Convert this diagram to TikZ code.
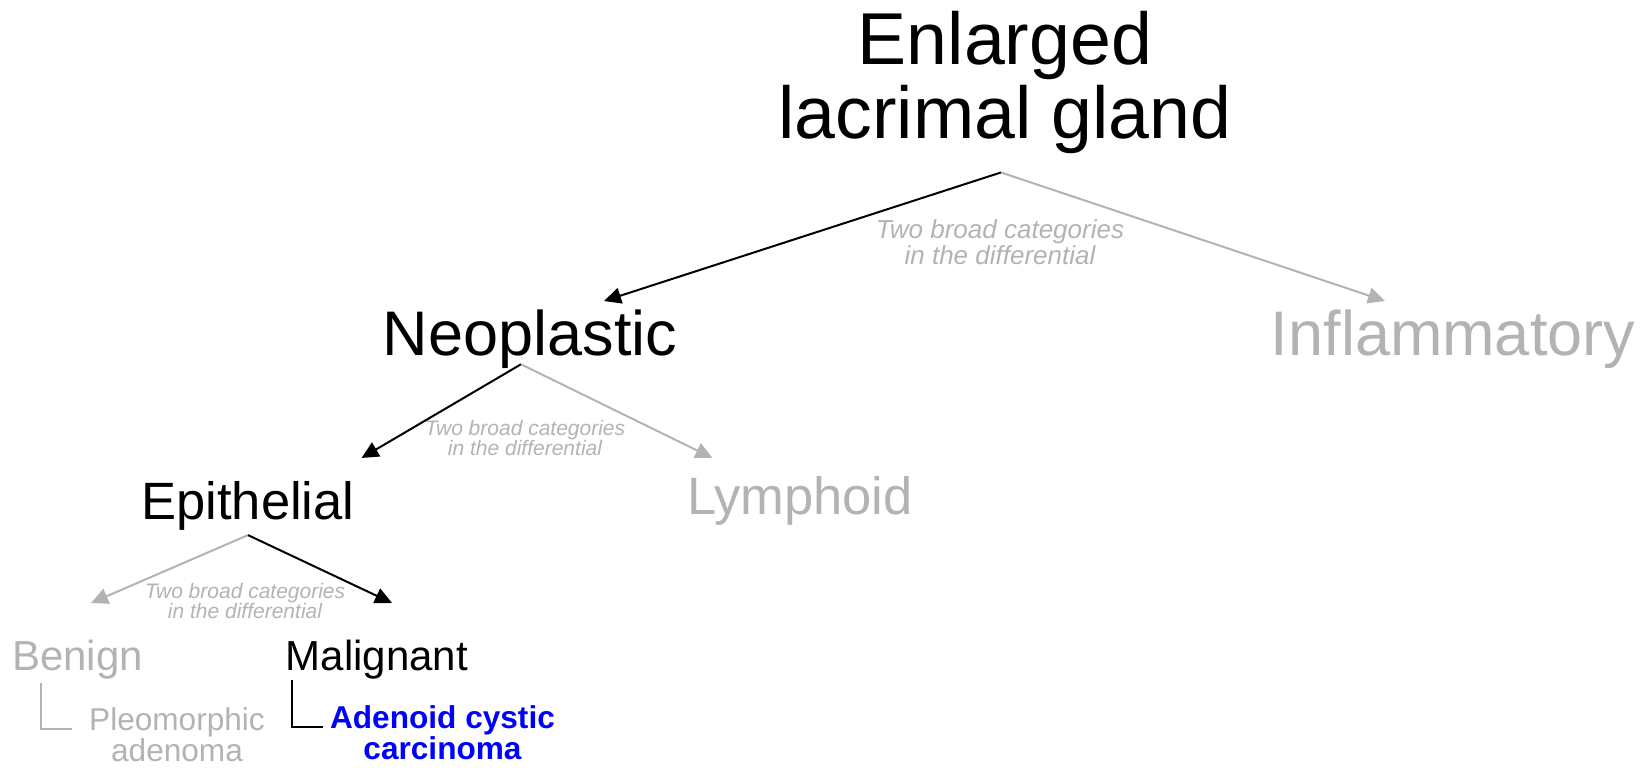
\documentclass[tikz,border=0pt]{standalone}
\usepackage{fontspec}
\setmainfont{Liberation Sans}
\usetikzlibrary{arrows.meta, calc}
\definecolor{muted}{HTML}{B3B3B3}
\definecolor{chosen}{HTML}{0000FF}

\begin{document}
\begin{tikzpicture}[x=1pt, y=-1pt,
    txt/.style={inner sep=0pt, anchor=base, align=center},
    lvlzero/.style={txt, font=\fontsize{73.5}{74}\selectfont},
    lvlone/.style={txt, font=\fontsize{63}{63}\selectfont},
    lvltwo/.style={txt, font=\fontsize{52.5}{52}\selectfont},
    lvlthree/.style={txt, font=\fontsize{42}{41}\selectfont},
    leaf/.style={txt, font=\fontsize{31.6}{27}\selectfont},
    note/.style={txt, text=muted, font=\fontsize{21}{20}\selectfont\itshape},
    bignote/.style={note, font=\fontsize{26}{26}\selectfont\itshape},
    yes/.style={line width=2pt, -{Triangle[length=17pt, width=16pt]}},
    no/.style={yes, draw=muted, -{Triangle[length=17pt, width=16pt, fill=muted]}},
    link/.style={line width=1.7pt}]
  \useasboundingbox (0,0) rectangle (1643,770);

  % Levels of the tree (base = last line)
  \node[lvlzero] (gland) at (1005,139) {Enlarged\\lacrimal gland};
  \node[lvlone] (neo) at (530,355) {Neoplastic};
  \node[lvlone, text=muted] (infl) at (1453,355) {Inflammatory};
  \node[lvltwo] (epi) at (248,519) {Epithelial};
  \node[lvltwo, text=muted] (lymph) at (800,514) {Lymphoid};
  \node[lvlthree, text=muted] (benign) at (77.5,670) {Benign};
  \node[lvlthree] (malig) at (377,670) {Malignant};
  \node[leaf, text=muted] (pleo) at (177,761) {Pleomorphic\\adenoma};
  \node[leaf, text=chosen, font=\fontsize{31.6}{27}\selectfont\bfseries] (acc) at (442.5,759) {Adenoid cystic\\carcinoma};

  % Split notes
  \node[bignote] (splitzero) at (1000,264) {Two broad categories\\in the differential};
  \node[note] (splitone) at (525,455) {Two broad categories\\in the differential};
  \node[note] (splittwo) at (245,618) {Two broad categories\\in the differential};

  % Arrow ends
  \coordinate (neo-in) at (604,301);
  \coordinate (infl-in) at (1385,301);
  \coordinate (epi-in) at (361.5,458);
  \coordinate (lymph-in) at (712.5,458);
  \coordinate (benign-in) at (91,603);
  \coordinate (malig-in) at (392,603);

  \draw[yes] ([xshift=-4pt, yshift=-18pt]gland.south) -- (neo-in);
  \draw[no] ([xshift=-4pt, yshift=-18pt]gland.south) -- (infl-in);
  \draw[yes] ([xshift=-9pt, yshift=4pt]neo.south) -- (epi-in);
  \draw[no] ([xshift=-9pt, yshift=4pt]neo.south) -- (lymph-in);
  \draw[no] ([yshift=-5pt]epi.south) -- (benign-in);
  \draw[yes] ([yshift=-5pt]epi.south) -- (malig-in);

  % Leaf links
  \draw[link, draw=muted] ([xshift=29pt, yshift=-4pt]benign.south west) |- ([xshift=-17pt, yshift=32pt]pleo.base west);
  \draw[link] ([xshift=6pt, yshift=-1pt]malig.south west) |- ([xshift=-7pt, yshift=32pt]acc.base west);
\end{tikzpicture}
\end{document}
